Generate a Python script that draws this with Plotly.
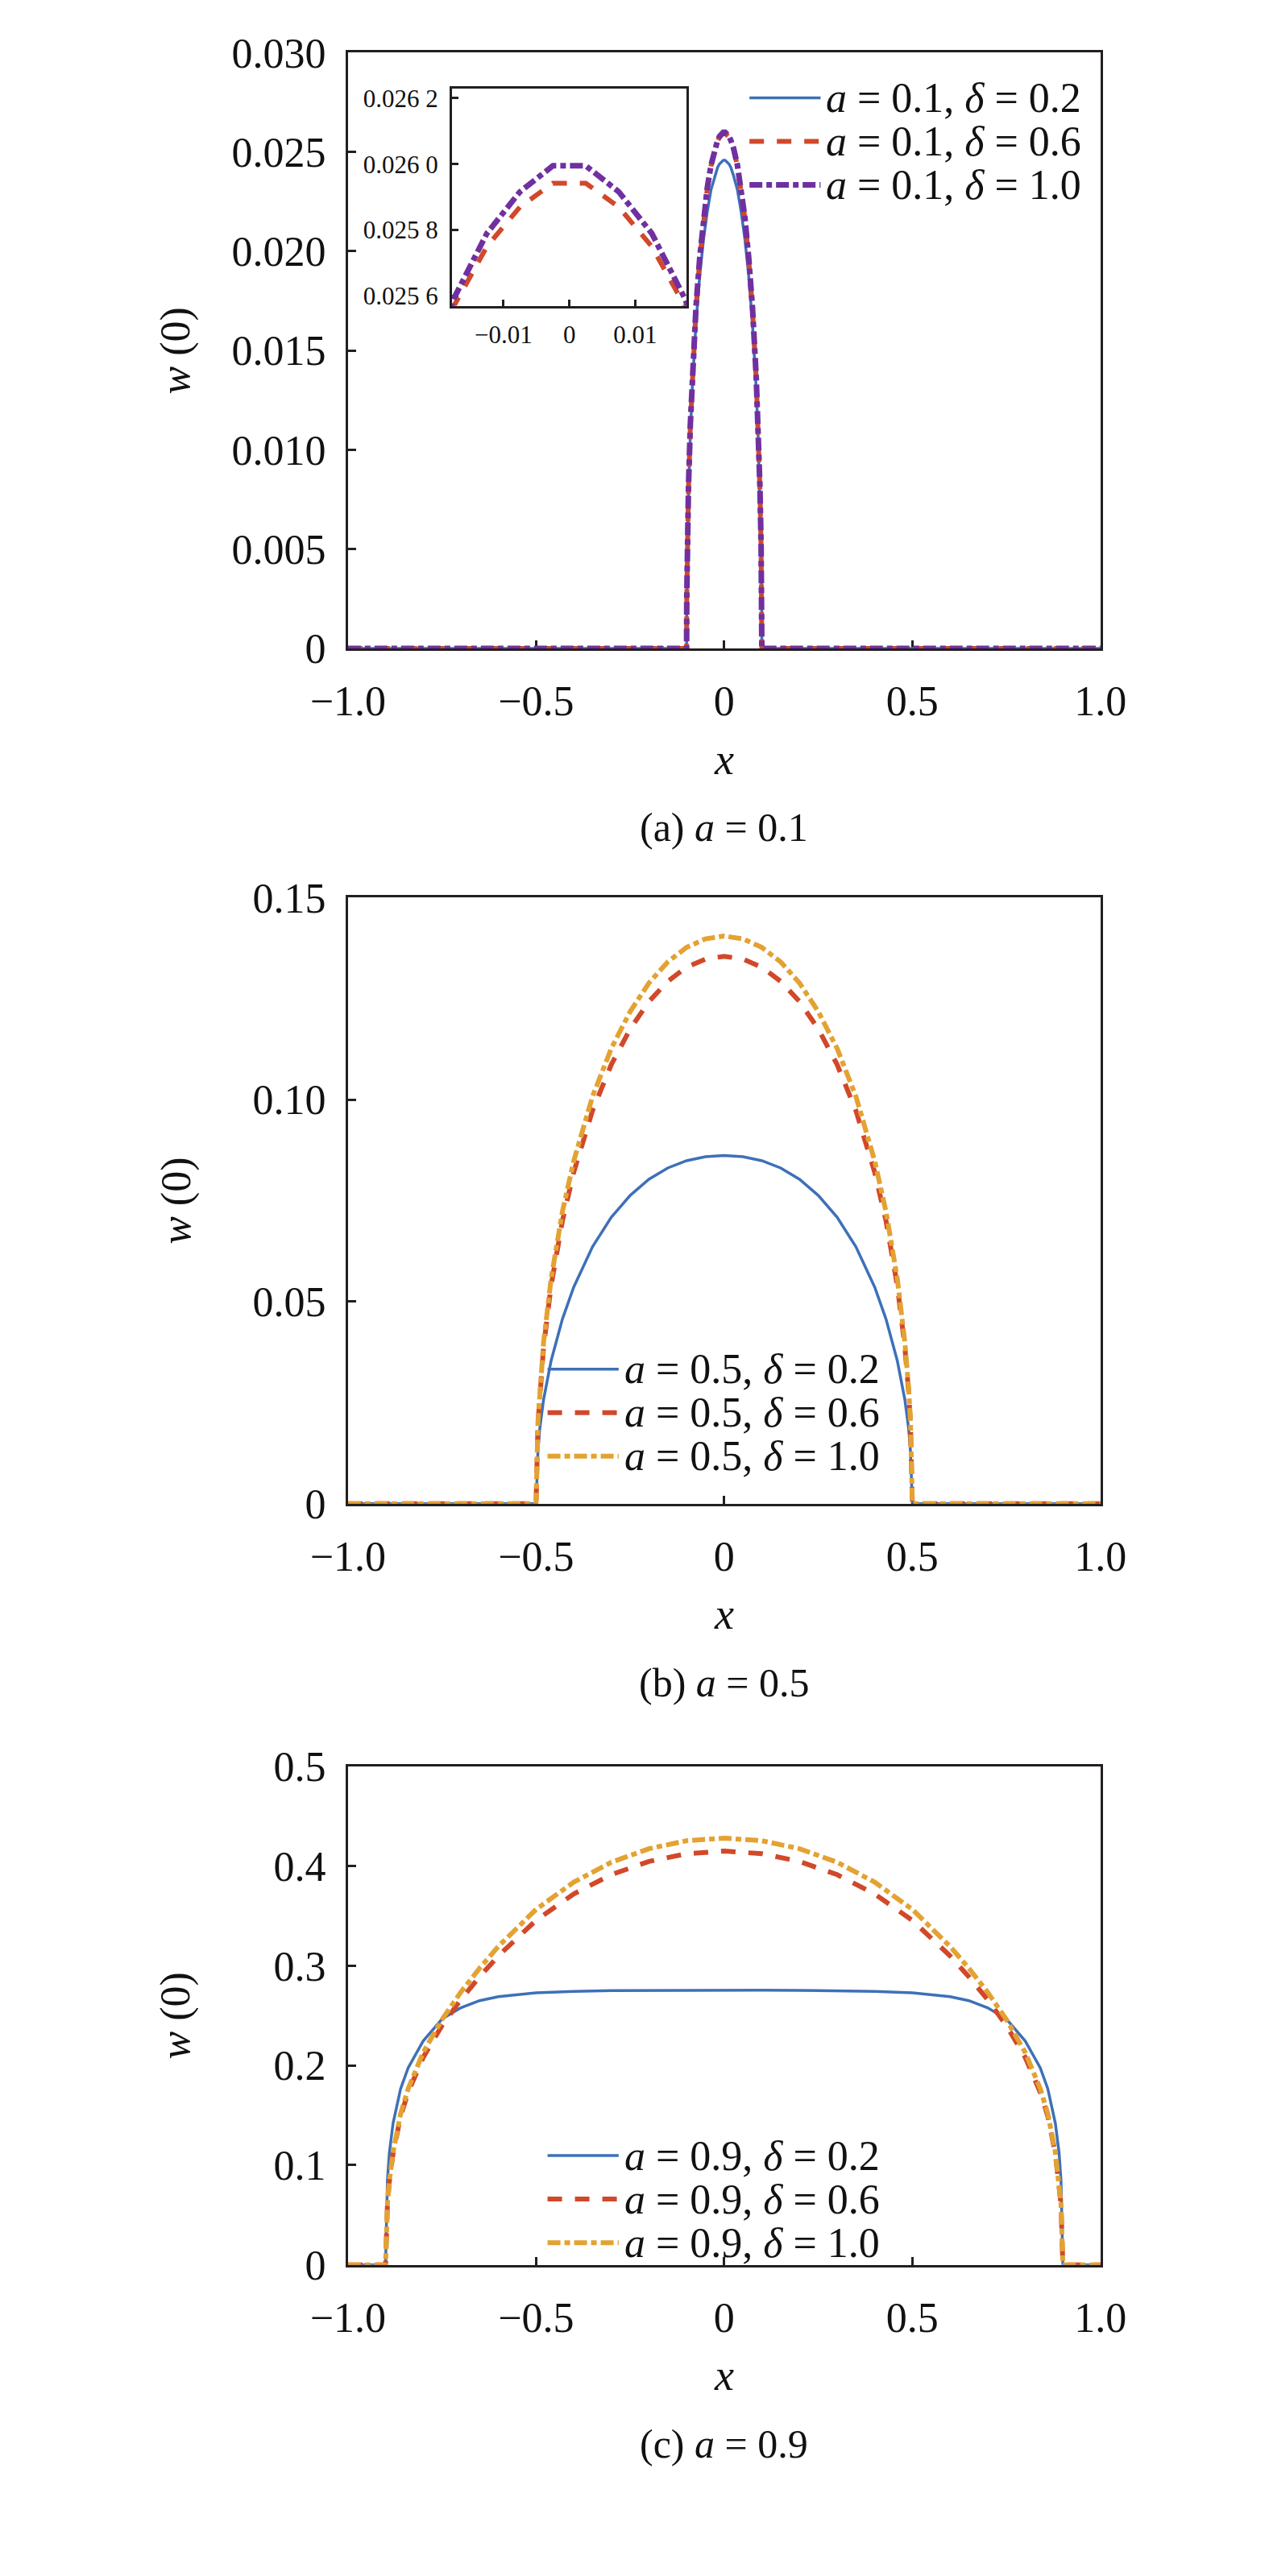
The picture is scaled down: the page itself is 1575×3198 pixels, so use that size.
import plotly.graph_objects as go

# ---------------- data ----------------
# panel (a): a = 0.1  (right half; curves are symmetric about x = 0)
xa_half = [0.0025, 0.0075, 0.0125, 0.0175, 0.025, 0.035, 0.045, 0.055, 0.065, 0.075,
           0.085, 0.09, 0.095, 0.098, 0.0995, 0.1, 0.2, 0.3, 0.4, 0.5, 0.6, 0.7, 0.8, 0.9, 1.0]
wa_d02 = [0.02458, 0.02451, 0.02440, 0.02423, 0.02380, 0.02310, 0.02200, 0.02060, 0.01880, 0.01640,
          0.01310, 0.01080, 0.00780, 0.00500, 0.00240, 0.0, 0, 0, 0, 0, 0, 0, 0, 0, 0]
wa_d06 = [0.025942, 0.02587, 0.02575, 0.02557, 0.02514, 0.02430, 0.02315, 0.02165, 0.01960, 0.01710,
          0.01360, 0.01120, 0.00800, 0.00510, 0.00250, 0.0, 0, 0, 0, 0, 0, 0, 0, 0, 0]
wa_d10 = [0.025995, 0.025916, 0.02579, 0.025593, 0.02518, 0.02435, 0.02320, 0.02170, 0.01970, 0.01720,
          0.01370, 0.01130, 0.00810, 0.00520, 0.00260, 0.0, 0, 0, 0, 0, 0, 0, 0, 0, 0]

# panel (b): a = 0.5
xb_half = [0.0, 0.05, 0.1, 0.15, 0.2, 0.25, 0.3, 0.35, 0.4, 0.43, 0.46, 0.48, 0.49, 0.495, 0.5,
           0.6, 0.7, 0.8, 0.9, 1.0]
wb_d02 = [0.0862, 0.0859, 0.0849, 0.0831, 0.0803, 0.0763, 0.0709, 0.0636, 0.0536, 0.0457, 0.0354,
          0.0258, 0.0187, 0.0131, 0.0, 0, 0, 0, 0, 0]
wb_d06 = [0.1355, 0.1348, 0.1328, 0.1293, 0.1243, 0.1175, 0.1087, 0.0973, 0.0820, 0.0700, 0.0540,
          0.0388, 0.0279, 0.0199, 0.0, 0, 0, 0, 0, 0]
wb_d10 = [0.1405, 0.1398, 0.1377, 0.1341, 0.1289, 0.1218, 0.1127, 0.1008, 0.0848, 0.0723, 0.0557,
          0.0400, 0.0287, 0.0204, 0.0, 0, 0, 0, 0, 0]

# panel (c): a = 0.9
xc_half = [0.0, 0.1, 0.2, 0.3, 0.4, 0.5, 0.6, 0.65, 0.7, 0.75, 0.8, 0.84, 0.86, 0.88, 0.89, 0.895,
           0.9, 0.95, 1.0]
wc_d02 = [0.2755, 0.2755, 0.2753, 0.2750, 0.2743, 0.2728, 0.2690, 0.2650, 0.2578, 0.2465, 0.2245,
          0.1975, 0.1765, 0.1420, 0.1120, 0.0850, 0.0, 0, 0]
wc_d06 = [0.4150, 0.4124, 0.4046, 0.3914, 0.3720, 0.3455, 0.3100, 0.2890, 0.2660, 0.2400, 0.2080,
          0.1730, 0.1490, 0.1115, 0.0835, 0.0605, 0.0, 0, 0]
wc_d10 = [0.4280, 0.4254, 0.4174, 0.4038, 0.3838, 0.3565, 0.3195, 0.2975, 0.2735, 0.2460, 0.2130,
          0.1765, 0.1515, 0.1130, 0.0845, 0.0612, 0.0, 0, 0]

x_ticks = [-1.0, -0.5, 0, 0.5, 1.0]
x_ticktext = ["\u22121.0", "\u22120.5", "0", "0.5", "1.0"]
ya_ticks = [0, 0.005, 0.010, 0.015, 0.020, 0.025, 0.030]
ya_text = ["0", "0.005", "0.010", "0.015", "0.020", "0.025", "0.030"]
yb_ticks = [0, 0.05, 0.10, 0.15]
yb_text = ["0", "0.05", "0.10", "0.15"]
yc_ticks = [0, 0.1, 0.2, 0.3, 0.4, 0.5]
yc_text = ["0", "0.1", "0.2", "0.3", "0.4", "0.5"]
inset_xticks = [-0.01, 0, 0.01]
inset_xtext = ["\u22120.01", "0", "0.01"]
inset_yticks = [0.0256, 0.0258, 0.0260, 0.0262]
inset_ytext = ["0.025 6", "0.025 8", "0.026 0", "0.026 2"]

deltas = ["0.2", "0.6", "1.0"]


def mirror(xh, yh):
    xs, ys = [], []
    for xv, yv in zip(reversed(xh), reversed(yh)):
        if xv > 0:
            xs.append(-xv)
            ys.append(yv)
    return xs + list(xh), ys + list(yh)


FONT = "Liberation Serif"
TXT = "#111111"
BLUE = "#3D70B8"
RED = "#D1482A"
PURPLE = "#7030A0"
ORANGE = "#E3A232"
AXC = "#231F20"

W, H = 1575, 3198
def py(px):
    return 1 - px / H
def pxx(px):
    return px / W

XL, XR = 397, 1381
panels = {"a": (30, 783), "b": (1098, 1864), "c": (2196, 2826)}

DASH_RED = "18px,16px"
DASH_DD = "16px,5px,7px,5px"

fig = go.Figure()


def styles(third):
    return [dict(color=BLUE, width=3.5, dash="solid"),
            dict(color=RED, width=6, dash=DASH_RED),
            dict(color=third, width=7 if third == PURPLE else 6, dash=DASH_DD)]


def add_panel(xh, ys, third, xaxis, yaxis):
    for yh, st in zip(ys, styles(third)):
        xf, yf = mirror(xh, yh)
        fig.add_trace(go.Scatter(x=xf, y=yf, mode="lines", showlegend=False,
                                 line=st, xaxis=xaxis, yaxis=yaxis, hoverinfo="skip"))


add_panel(xa_half, [wa_d02, wa_d06, wa_d10], PURPLE, "x", "y")
add_panel(xb_half, [wb_d02, wb_d06, wb_d10], ORANGE, "x2", "y2")
add_panel(xc_half, [wc_d02, wc_d06, wc_d10], ORANGE, "x3", "y3")

# inset (zoom of panel a around the peak)
for yh, st in zip([wa_d06, wa_d10], styles(PURPLE)[1:]):
    xf, yf = mirror(xa_half, yh)
    fig.add_trace(go.Scatter(x=xf, y=yf, mode="lines", showlegend=False, line=st,
                             xaxis="x4", yaxis="y4", hoverinfo="skip"))

axis_common = dict(showline=True, linecolor=AXC, linewidth=3, mirror=True, ticks="inside",
                   ticklen=10, tickwidth=2.5, tickcolor=AXC, showgrid=False, zeroline=False,
                   layer="below traces", tickfont=dict(family=FONT, size=52, color=TXT))

layout = dict(width=W, height=H, margin=dict(l=0, r=0, t=0, b=0),
              paper_bgcolor="white", plot_bgcolor="white", showlegend=False)

for i, (key, yt, ytx) in enumerate([("a", ya_ticks, ya_text), ("b", yb_ticks, yb_text),
                                     ("c", yc_ticks, yc_text)]):
    top, bot = panels[key]
    sfx = "" if i == 0 else str(i + 1)
    layout["xaxis" + sfx] = dict(axis_common, domain=[pxx(XL), pxx(XR)], range=[-1, 1],
                                 tickvals=x_ticks, ticktext=x_ticktext, anchor="y" + sfx,
                                 ticklabelstandoff=18)
    layout["yaxis" + sfx] = dict(axis_common, domain=[py(bot), py(top)],
                                 range=[yt[0], yt[-1]], tickvals=yt, ticktext=ytx,
                                 anchor="x" + sfx, ticklabelstandoff=14)

inset_common = dict(axis_common, tickfont=dict(family=FONT, size=31, color=TXT), ticklen=8)
layout["xaxis4"] = dict(inset_common, domain=[pxx(533), pxx(840)], range=[-0.0178, 0.0178],
                        tickvals=inset_xticks, ticktext=inset_xtext, anchor="y4",
                        ticklabelstandoff=6)
layout["yaxis4"] = dict(inset_common, domain=[py(350), py(75)], range=[0.02557, 0.02623],
                        tickvals=inset_yticks, ticktext=inset_ytext, anchor="x4",
                        ticklabelstandoff=8)
fig.update_layout(**layout)

# ---------------- legends (line samples + labels) ----------------
legend_specs = [  # (a value, third colour, line x0, row y positions in px)
    ("0.1", PURPLE, 922, [87, 142, 197]),
    ("0.5", ORANGE, 658, [panels["b"][1] - 170, panels["b"][1] - 115, panels["b"][1] - 60]),
    ("0.9", ORANGE, 658, [panels["c"][1] - 138, panels["c"][1] - 83, panels["c"][1] - 28]),
]
ann = []
for aval, third, x0, rows in legend_specs:
    for d, st, yrow in zip(deltas, styles(third), rows):
        fig.add_shape(type="line", xref="paper", yref="paper",
                      x0=pxx(x0), x1=pxx(x0 + 93), y0=py(yrow), y1=py(yrow), line=st)
        ann.append(dict(text=f"<i>a</i> = {aval}, <i>\u03b4</i> = {d}", x=pxx(x0 + 98),
                        y=py(yrow), xref="paper", yref="paper", xanchor="left",
                        yanchor="middle", showarrow=False,
                        font=dict(family=FONT, size=52, color=TXT)))

xc = pxx((XL + XR) / 2)
for key, cap in [("a", "(a) <i>a</i> = 0.1"), ("b", "(b) <i>a</i> = 0.5"), ("c", "(c) <i>a</i> = 0.9")]:
    top, bot = panels[key]
    ann.append(dict(text="<i>w</i> (0)", x=pxx(172), y=py((top + bot) / 2), xref="paper",
                    yref="paper", xanchor="center", yanchor="middle", showarrow=False,
                    textangle=-90, font=dict(family=FONT, size=52, color=TXT)))
    ann.append(dict(text="<i>x</i>", x=xc, y=py(bot + 140), xref="paper", yref="paper",
                    xanchor="center", yanchor="middle", showarrow=False,
                    font=dict(family=FONT, size=54, color=TXT)))
    ann.append(dict(text=cap, x=xc, y=py(bot + 226), xref="paper", yref="paper",
                    xanchor="center", yanchor="middle", showarrow=False,
                    font=dict(family=FONT, size=50, color=TXT)))
fig.update_layout(annotations=ann)

fig.write_html("out.html")
